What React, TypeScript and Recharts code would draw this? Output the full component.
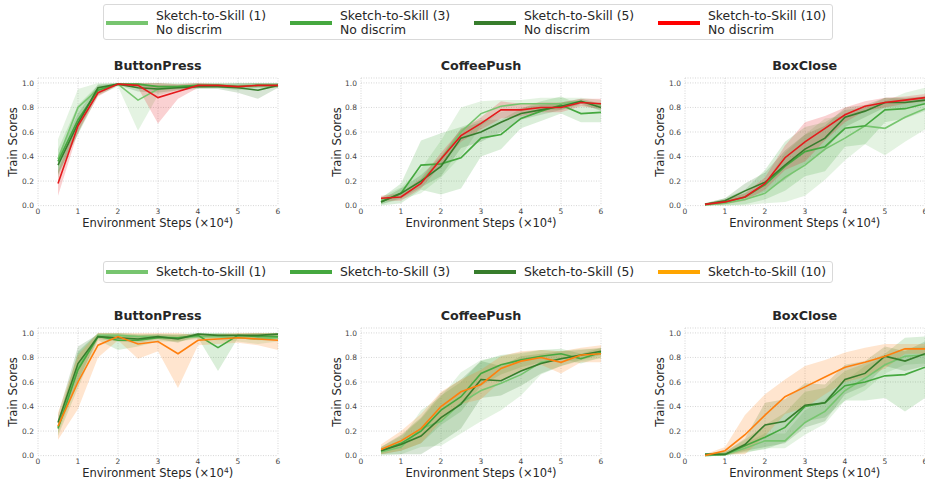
import { ComposedChart, Area, Line, XAxis, YAxis, CartesianGrid } from "recharts";

const steps = [0.5, 1, 1.5, 2, 2.5, 3, 3.5, 4, 4.5, 5, 5.5, 6];
const xTicks = [0, 1, 2, 3, 4, 5, 6];
const yTicks = [0, 0.2, 0.4, 0.6, 0.8, 1.0];
const seriesNames = ["Sketch-to-Skill (1)", "Sketch-to-Skill (3)", "Sketch-to-Skill (5)", "Sketch-to-Skill (10)"];
const topSubLabel = "No discrim";

// top row (no discriminator) - means and spreads, order: (1), (3), (5), (10)
const topButton1 = [0.38, 0.8, 0.95, 0.99, 0.86, 0.95, 0.97, 0.98, 0.98, 0.97, 0.98, 0.98];
const topButton1Sd = [0.16, 0.15, 0.05, 0.02, 0.25, 0.05, 0.03, 0.02, 0.02, 0.02, 0.02, 0.02];
const topButton3 = [0.36, 0.7, 0.94, 0.99, 0.99, 0.97, 0.97, 0.98, 0.98, 0.97, 0.98, 0.98];
const topButton3Sd = [0.1, 0.12, 0.04, 0.01, 0.02, 0.03, 0.02, 0.02, 0.02, 0.03, 0.02, 0.02];
const topButton5 = [0.33, 0.67, 0.96, 0.99, 0.96, 0.95, 0.96, 0.97, 0.97, 0.96, 0.94, 0.98];
const topButton5Sd = [0.08, 0.08, 0.03, 0.01, 0.03, 0.03, 0.02, 0.02, 0.02, 0.04, 0.07, 0.02];
const topButton10 = [0.18, 0.65, 0.92, 0.99, 0.98, 0.88, 0.93, 0.98, 0.98, 0.97, 0.98, 0.98];
const topButton10Sd = [0.1, 0.05, 0.03, 0.01, 0.02, 0.21, 0.06, 0.02, 0.01, 0.01, 0.01, 0.01];

const topCoffee1 = [0.04, 0.1, 0.2, 0.38, 0.6, 0.75, 0.81, 0.83, 0.83, 0.83, 0.85, 0.82];
const topCoffee1Sd = [0.03, 0.05, 0.1, 0.15, 0.2, 0.1, 0.05, 0.03, 0.05, 0.05, 0.03, 0.04];
const topCoffee3 = [0.03, 0.1, 0.33, 0.34, 0.39, 0.55, 0.58, 0.71, 0.77, 0.82, 0.75, 0.76];
const topCoffee3Sd = [0.03, 0.08, 0.2, 0.25, 0.25, 0.15, 0.12, 0.08, 0.08, 0.07, 0.07, 0.08];
const topCoffee5 = [0.03, 0.1, 0.2, 0.32, 0.55, 0.6, 0.68, 0.75, 0.78, 0.81, 0.85, 0.8];
const topCoffee5Sd = [0.02, 0.04, 0.05, 0.08, 0.08, 0.08, 0.08, 0.05, 0.04, 0.03, 0.02, 0.03];
const topCoffee10 = [0.06, 0.07, 0.18, 0.38, 0.57, 0.67, 0.78, 0.78, 0.8, 0.8, 0.84, 0.83];
const topCoffee10Sd = [0.02, 0.03, 0.04, 0.05, 0.05, 0.05, 0.07, 0.05, 0.04, 0.04, 0.03, 0.04];

const topBox1 = [0.005, 0.02, 0.05, 0.1, 0.23, 0.33, 0.46, 0.55, 0.65, 0.63, 0.72, 0.79];
const topBox1Sd = [0.01, 0.03, 0.05, 0.08, 0.2, 0.25, 0.25, 0.18, 0.15, 0.22, 0.2, 0.17];
const topBox3 = [0.01, 0.03, 0.07, 0.17, 0.32, 0.44, 0.48, 0.63, 0.65, 0.78, 0.79, 0.83];
const topBox3Sd = [0.01, 0.03, 0.06, 0.12, 0.2, 0.2, 0.2, 0.15, 0.15, 0.1, 0.08, 0.06];
const topBox5 = [0.01, 0.04, 0.12, 0.19, 0.33, 0.46, 0.55, 0.72, 0.77, 0.84, 0.84, 0.86];
const topBox5Sd = [0.01, 0.02, 0.06, 0.08, 0.12, 0.12, 0.1, 0.08, 0.05, 0.04, 0.04, 0.03];
const topBox10 = [0.01, 0.03, 0.07, 0.18, 0.39, 0.52, 0.63, 0.74, 0.81, 0.84, 0.86, 0.88];
const topBox10Sd = [0.01, 0.02, 0.03, 0.05, 0.1, 0.16, 0.1, 0.06, 0.04, 0.04, 0.03, 0.03];

// bottom row
const botButton1 = [0.23, 0.72, 0.98, 0.98, 0.97, 0.97, 0.96, 0.97, 0.97, 0.96, 0.95, 0.96];
const botButton1Sd = [0.05, 0.12, 0.02, 0.02, 0.02, 0.02, 0.03, 0.02, 0.03, 0.03, 0.04, 0.03];
const botButton3 = [0.22, 0.7, 0.97, 0.94, 0.94, 0.96, 0.96, 0.98, 0.88, 0.98, 0.97, 0.97];
const botButton3Sd = [0.06, 0.15, 0.03, 0.08, 0.05, 0.03, 0.03, 0.02, 0.19, 0.02, 0.03, 0.03];
const botButton5 = [0.27, 0.75, 0.97, 0.96, 0.95, 0.97, 0.95, 0.99, 0.98, 0.98, 0.98, 0.99];
const botButton5Sd = [0.06, 0.14, 0.02, 0.03, 0.03, 0.02, 0.03, 0.01, 0.01, 0.01, 0.02, 0.01];
const botButton10 = [0.24, 0.6, 0.9, 0.97, 0.91, 0.93, 0.83, 0.94, 0.95, 0.96, 0.95, 0.94];
const botButton10Sd = [0.11, 0.22, 0.1, 0.03, 0.12, 0.08, 0.28, 0.04, 0.04, 0.04, 0.05, 0.08];

const botCoffee1 = [0.03, 0.07, 0.22, 0.28, 0.43, 0.53, 0.59, 0.66, 0.76, 0.79, 0.82, 0.83];
const botCoffee1Sd = [0.03, 0.06, 0.15, 0.2, 0.25, 0.25, 0.22, 0.17, 0.1, 0.06, 0.05, 0.04];
const botCoffee3 = [0.04, 0.1, 0.2, 0.37, 0.48, 0.67, 0.74, 0.78, 0.81, 0.83, 0.79, 0.84];
const botCoffee3Sd = [0.03, 0.06, 0.1, 0.12, 0.12, 0.1, 0.08, 0.06, 0.05, 0.04, 0.04, 0.04];
const botCoffee5 = [0.04, 0.09, 0.16, 0.31, 0.42, 0.62, 0.61, 0.69, 0.75, 0.79, 0.82, 0.85];
const botCoffee5Sd = [0.03, 0.08, 0.15, 0.2, 0.2, 0.15, 0.12, 0.12, 0.08, 0.06, 0.04, 0.03];
const botCoffee10 = [0.05, 0.12, 0.22, 0.4, 0.52, 0.58, 0.71, 0.77, 0.8, 0.76, 0.82, 0.83];
const botCoffee10Sd = [0.04, 0.08, 0.12, 0.12, 0.1, 0.12, 0.1, 0.08, 0.06, 0.09, 0.06, 0.07];

const botBox1 = [0.0, 0.01, 0.06, 0.12, 0.12, 0.27, 0.36, 0.53, 0.63, 0.74, 0.81, 0.82];
const botBox1Sd = [0.01, 0.02, 0.04, 0.06, 0.06, 0.1, 0.1, 0.08, 0.1, 0.07, 0.07, 0.07];
const botBox3 = [0.01, 0.01, 0.08, 0.15, 0.23, 0.4, 0.43, 0.57, 0.6, 0.65, 0.66, 0.72];
const botBox3Sd = [0.01, 0.02, 0.05, 0.1, 0.12, 0.12, 0.12, 0.12, 0.15, 0.18, 0.3, 0.25];
const botBox5 = [0.01, 0.01, 0.09, 0.25, 0.28, 0.41, 0.43, 0.62, 0.67, 0.81, 0.77, 0.83];
const botBox5Sd = [0.01, 0.02, 0.05, 0.18, 0.18, 0.18, 0.15, 0.12, 0.1, 0.08, 0.08, 0.1];
const botBox10 = [0.0, 0.04, 0.17, 0.33, 0.48, 0.56, 0.64, 0.72, 0.76, 0.81, 0.87, 0.87];
const botBox10Sd = [0.01, 0.03, 0.16, 0.17, 0.14, 0.17, 0.14, 0.12, 0.12, 0.1, 0.04, 0.04];

const GREENS = ["#77c56f", "#45a83f", "#377d2c"];
const topLine = [...GREENS, "#e41a1c"];
const topLegend = [...GREENS, "#ff0000"];
const botLine = [...GREENS, "#ff7f0e"];
const botLegend = [...GREENS, "#ffa500"];

const FONT = "'DejaVu Sans', sans-serif";
const PLOT_W = 240;
const PLOT_H = 127.6;
const PAD_TOP = 30;
const Y_AXIS_W = 40;

const clamp = (v: number) => Math.max(0, Math.min(1, v));

function buildRows(means: number[][], sds: number[][]) {
  return steps.map((x, i) => {
    const row: Record<string, any> = { x };
    means.forEach((m, k) => {
      row["m" + k] = m[i];
      row["b" + k] = [clamp(m[i] - sds[k][i]), clamp(m[i] + sds[k][i])];
    });
    return row;
  });
}

function Panel({ x0, top, title, means, sds, colors }: any) {
  const data = buildRows(means, sds);
  const plotTop = top;
  return (
    <>
      <div style={{ position: "absolute", left: x0, top: plotTop - 19, width: PLOT_W, textAlign: "center", fontWeight: "bold", fontSize: 12.7, color: "#262626", lineHeight: "14px" }}>
        {title}
      </div>
      <div style={{ position: "absolute", left: x0 - 24.4 - 50, top: plotTop + PLOT_H / 2 - 7, width: 100, textAlign: "center", fontSize: 11.5, color: "#262626", lineHeight: "14px", transform: "rotate(-90deg)" }}>
        Train Scores
      </div>
      <div style={{ position: "absolute", left: x0 - 30, top: plotTop + PLOT_H + 10.5, width: PLOT_W + 60, textAlign: "center", fontSize: 11.5, color: "#262626", lineHeight: "14px" }}>
        Environment Steps (×10<sup style={{ fontSize: 7.5, verticalAlign: "4px", lineHeight: 0 }}>4</sup>)
      </div>
      <div style={{ position: "absolute", left: x0 - Y_AXIS_W, top: plotTop - PAD_TOP }}>
        <ComposedChart width={Y_AXIS_W + PLOT_W + 10} height={PAD_TOP + PLOT_H + 30} data={data} margin={{ top: PAD_TOP, right: 10, left: 0, bottom: 0 }}>
          <CartesianGrid stroke="#cccccc" strokeDasharray="1 1.5" strokeWidth={0.8} />
          <XAxis type="number" dataKey="x" domain={[0, 6]} ticks={xTicks} axisLine={false} tickLine={false} tickSize={0} tickMargin={3} height={30} tick={{ fontSize: 7.5, fill: "#444", fontFamily: FONT }} interval={0} />
          <YAxis type="number" domain={[0, 1.04]} ticks={yTicks} axisLine={false} tickLine={false} tickSize={0} tickMargin={4} width={Y_AXIS_W} tick={{ fontSize: 7.5, fill: "#444", fontFamily: FONT }} tickFormatter={(v: number) => v.toFixed(1)} interval={0} />
          {colors.map((c: string, k: number) => (
            <Area key={"b" + k} type="linear" dataKey={"b" + k} stroke="none" fill={c} fillOpacity={0.2} isAnimationActive={false} />
          ))}
          {colors.map((c: string, k: number) => (
            <Line key={"m" + k} type="linear" dataKey={"m" + k} stroke={c} strokeWidth={1.6} dot={false} isAnimationActive={false} />
          ))}
        </ComposedChart>
      </div>
    </>
  );
}

function LegendBox({ top, height, twoLine, colors }: any) {
  const cy = height / 2;
  return (
    <div style={{ position: "absolute", left: 102.7, top, width: 730, height, border: "1px solid #d9d9d9", borderRadius: 3, boxSizing: "border-box", background: "#fff" }}>
      {seriesNames.map((name, k) => (
        <div key={name}>
          <div style={{ position: "absolute", left: 2.6 + k * 184, top: cy - 2.5, width: 42, height: 4, background: colors[k] }} />
          <div style={{ position: "absolute", left: 52.3 + k * 184, top: twoLine ? cy - 14 : cy - 7.5, fontSize: 12.4, lineHeight: "13.5px", color: "#262626", whiteSpace: "nowrap" }}>
            {name}
            {twoLine ? <><br />{topSubLabel}</> : null}
          </div>
        </div>
      ))}
    </div>
  );
}

const xStarts = [37.7, 361, 684.7];

export default function App() {
  const topPanels = [
    { title: "ButtonPress", means: [topButton1, topButton3, topButton5, topButton10], sds: [topButton1Sd, topButton3Sd, topButton5Sd, topButton10Sd] },
    { title: "CoffeePush", means: [topCoffee1, topCoffee3, topCoffee5, topCoffee10], sds: [topCoffee1Sd, topCoffee3Sd, topCoffee5Sd, topCoffee10Sd] },
    { title: "BoxClose", means: [topBox1, topBox3, topBox5, topBox10], sds: [topBox1Sd, topBox3Sd, topBox5Sd, topBox10Sd] },
  ];
  const botPanels = [
    { title: "ButtonPress", means: [botButton1, botButton3, botButton5, botButton10], sds: [botButton1Sd, botButton3Sd, botButton5Sd, botButton10Sd] },
    { title: "CoffeePush", means: [botCoffee1, botCoffee3, botCoffee5, botCoffee10], sds: [botCoffee1Sd, botCoffee3Sd, botCoffee5Sd, botCoffee10Sd] },
    { title: "BoxClose", means: [botBox1, botBox3, botBox5, botBox10], sds: [botBox1Sd, botBox3Sd, botBox5Sd, botBox10Sd] },
  ];
  return (
    <div style={{ position: "absolute", left: 0, top: 0, width: 925, height: 479, overflow: "hidden", background: "#fff", fontFamily: FONT }}>
      <LegendBox top={4} height={36} twoLine colors={topLegend} />
      {topPanels.map((p, i) => (
        <Panel key={"t" + i} x0={xStarts[i]} top={78.1} title={p.title} means={p.means} sds={p.sds} colors={topLine} />
      ))}
      <LegendBox top={260.7} height={22.6} twoLine={false} colors={botLegend} />
      {botPanels.map((p, i) => (
        <Panel key={"b" + i} x0={xStarts[i]} top={328.1} title={p.title} means={p.means} sds={p.sds} colors={botLine} />
      ))}
    </div>
  );
}
